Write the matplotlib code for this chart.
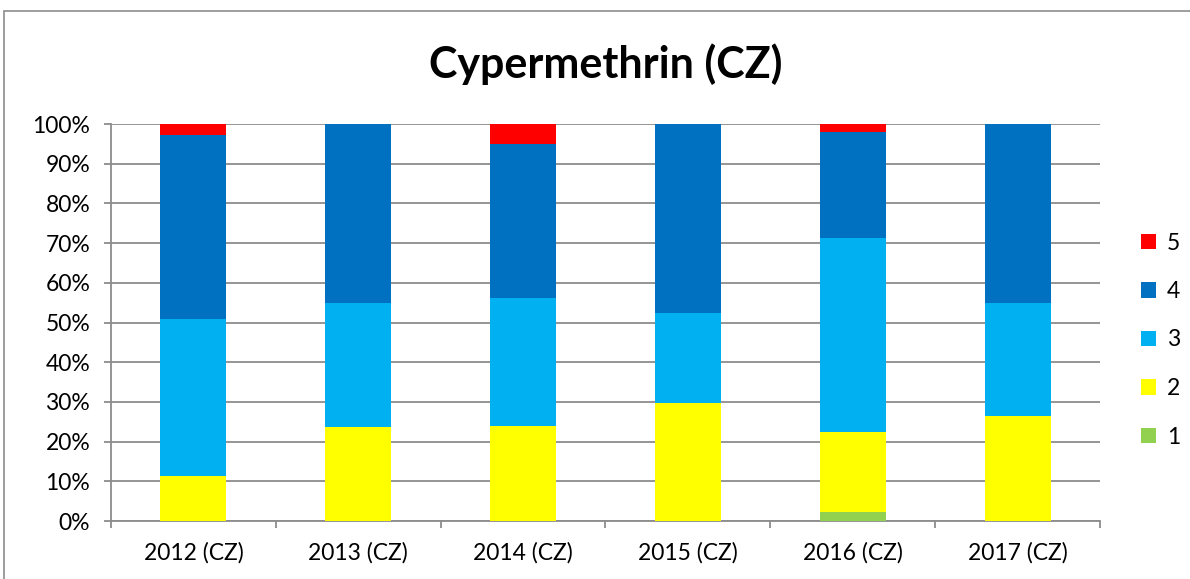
import matplotlib
matplotlib.use('Agg')
from matplotlib import pyplot as plt
from matplotlib.patches import Rectangle, Patch
import numpy as np

categories = ['2012 (CZ)', '2013 (CZ)', '2014 (CZ)', '2015 (CZ)', '2016 (CZ)', '2017 (CZ)']
series_names = ['1', '2', '3', '4', '5']
s1 = [0.0, 0.0, 0.0, 0.0, 2.3, 0.0]
s2 = [11.4, 23.6, 23.9, 29.7, 20.0, 26.4]
s3 = [39.5, 31.3, 32.3, 22.8, 49.0, 28.5]
s4 = [46.3, 45.1, 38.8, 47.5, 26.6, 45.1]
s5 = [2.8, 0.0, 5.0, 0.0, 2.1, 0.0]
colors = ['#92d050', '#ffff00', '#00b0f0', '#0070c0', '#ff0000']

plt.rcParams['font.family'] = ['Lato', 'DejaVu Sans']

fig = plt.figure(figsize=(11.9, 5.79), dpi=100)
# outer chart border (cropped at right / bottom)
fig.patches.append(Rectangle((4/1190, -0.1), 1.2, 1 - 11/579 + 0.1, transform=fig.transFigure,
                             fill=False, edgecolor='#8c8c8c', linewidth=1.2))

ax = fig.add_axes([111/1190, 1 - 521/579, 989/1190, 397/579])
x = np.arange(len(categories))
bottom = np.zeros(len(categories))
handles = []
for name, vals, col in zip(series_names, [s1, s2, s3, s4, s5], colors):
    vals = np.array(vals)
    ax.bar(x, vals, bottom=bottom, width=0.4, color=col, zorder=3)
    bottom += vals
    handles.append(Patch(facecolor=col, label=name))

ax.set_xlim(-0.5, len(categories) - 0.5)
ax.set_ylim(0, 100)
ax.set_yticks(np.arange(0, 101, 10))
ax.set_yticklabels([f'{v}%' for v in range(0, 101, 10)], fontsize=16.5)
ax.yaxis.grid(True, color='#8c8c8c', linewidth=1.3, zorder=0)
ax.set_axisbelow(True)

ax.set_xticks(x)
ax.set_xticklabels(categories, fontsize=16.5)
ax.set_xticks(np.arange(-0.5, len(categories), 1), minor=True)
ax.tick_params(axis='x', which='major', length=0, pad=15)
ax.tick_params(axis='x', which='minor', length=5, color='#8c8c8c', width=1.3)
ax.tick_params(axis='y', length=5, color='#8c8c8c', width=1.3, pad=10)

for side in ['top', 'right']:
    ax.spines[side].set_visible(False)
for side in ['left', 'bottom']:
    ax.spines[side].set_color('#8c8c8c')
    ax.spines[side].set_linewidth(1.3)

fig.text(606/1190, 1 - 64/579, 'Cypermethrin (CZ)', ha='center', va='center',
         fontsize=31, fontweight='bold')

fig.legend(handles=handles[::-1], loc='center left', bbox_to_anchor=(1120/1190, 1 - 340/579),
           frameon=False, fontsize=16.5, handlelength=0.65, handleheight=0.65,
           handletextpad=0.5, labelspacing=1.2)

plt.savefig('out.png', dpi=100)
